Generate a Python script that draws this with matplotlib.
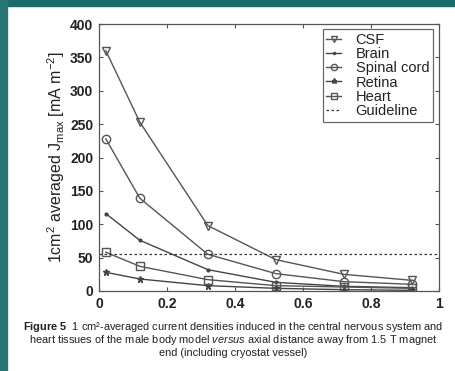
import matplotlib.pyplot as plt
from matplotlib.patches import Rectangle

# distance from magnet end (m)
dist = [0.02, 0.12, 0.32, 0.52, 0.72, 0.92]
csf = [360, 253, 98, 47, 25, 16]
brain = [116, 76, 32, 13, 7, 5]
spinal = [228, 139, 55, 26, 14, 10]
retina = [28, 18, 8, 4, 2, 1]
heart = [58, 37, 17, 8, 6, 4]
guideline = 56

plt.rcParams['font.family'] = ['Liberation Sans', 'DejaVu Sans']
plt.rcParams['mathtext.fontset'] = 'custom'
plt.rcParams['mathtext.rm'] = 'Liberation Sans'
plt.rcParams['mathtext.it'] = 'Liberation Sans:italic'
plt.rcParams['mathtext.bf'] = 'Liberation Sans:bold'

fig = plt.figure(figsize=(4.56, 3.71), dpi=100, facecolor='white')

# teal slide border
teal = '#1c6b6b'
fig.patches.append(Rectangle((0, 0.984), 1, 0.016, transform=fig.transFigure, color=teal, zorder=-1))
fig.patches.append(Rectangle((0, 0), 0.015, 1, transform=fig.transFigure, color='#2a7676', zorder=-1))

ax = fig.add_axes([99/456, 1 - 291/371, 340/456, 267/371])

lc = '#555555'
ax.plot(dist, csf, color=lc, lw=1, marker='v', ms=6, mfc='none', mec=lc, label='CSF')
ax.plot(dist, brain, color='#444444', lw=1, marker='.', ms=4, label='Brain')
ax.plot(dist, spinal, color=lc, lw=1, marker='o', ms=6, mfc='none', mec=lc, label='Spinal cord')
ax.plot(dist, retina, color='#444444', lw=1, marker='*', ms=5, label='Retina')
ax.plot(dist, heart, color=lc, lw=1, marker='s', ms=6, mfc='none', mec=lc, label='Heart')
ax.axhline(guideline, color='#333333', lw=0.9, ls=(0, (2, 2)), label='Guideline')

ax.set_xlim(0, 1)
ax.set_ylim(0, 400)
ax.set_xticks([0, 0.2, 0.4, 0.6, 0.8, 1])
ax.set_xticklabels(['0', '0.2', '0.4', '0.6', '0.8', '1'])
ax.set_yticks(range(0, 401, 50))
ax.tick_params(direction='in', top=True, right=True, length=3, width=0.8,
               color='#555555', labelsize=10, pad=4)
for lab in ax.get_xticklabels() + ax.get_yticklabels():
    lab.set_fontweight('bold')
    lab.set_color('#222222')
for s in ax.spines.values():
    s.set_color('#555555')
    s.set_linewidth(0.9)

ax.set_ylabel(r'1cm$^2$ averaged J$_{\rm max}$ [mA m$^{-2}$]', fontsize=11.5, labelpad=2, color='#222222')

leg = ax.legend(loc='upper right', fontsize=10.5, frameon=True, fancybox=False,
                edgecolor='#444444', handlelength=1.0, borderpad=0.25, labelspacing=0.02,
                handletextpad=1.0, borderaxespad=0, markerscale=0.75, numpoints=1,
                bbox_to_anchor=(0.982, 0.981))
leg.get_frame().set_linewidth(0.9)
for t in leg.get_texts():
    t.set_color('#222222')

cap1 = r'$\bf{Figure\ 5}$  1 cm²-averaged current densities induced in the central nervous system and'
cap2 = r'heart tissues of the male body model $\it{versus}$ axial distance away from 1.5 T magnet'
cap3 = 'end (including cryostat vessel)'
for i, t in enumerate([cap1, cap2, cap3]):
    fig.text(233/456, 1 - (327 + i * 13)/371, t, ha='center', va='center', fontsize=7.9, color='#222222')

fig.savefig('out.png', dpi=100, facecolor='white')
